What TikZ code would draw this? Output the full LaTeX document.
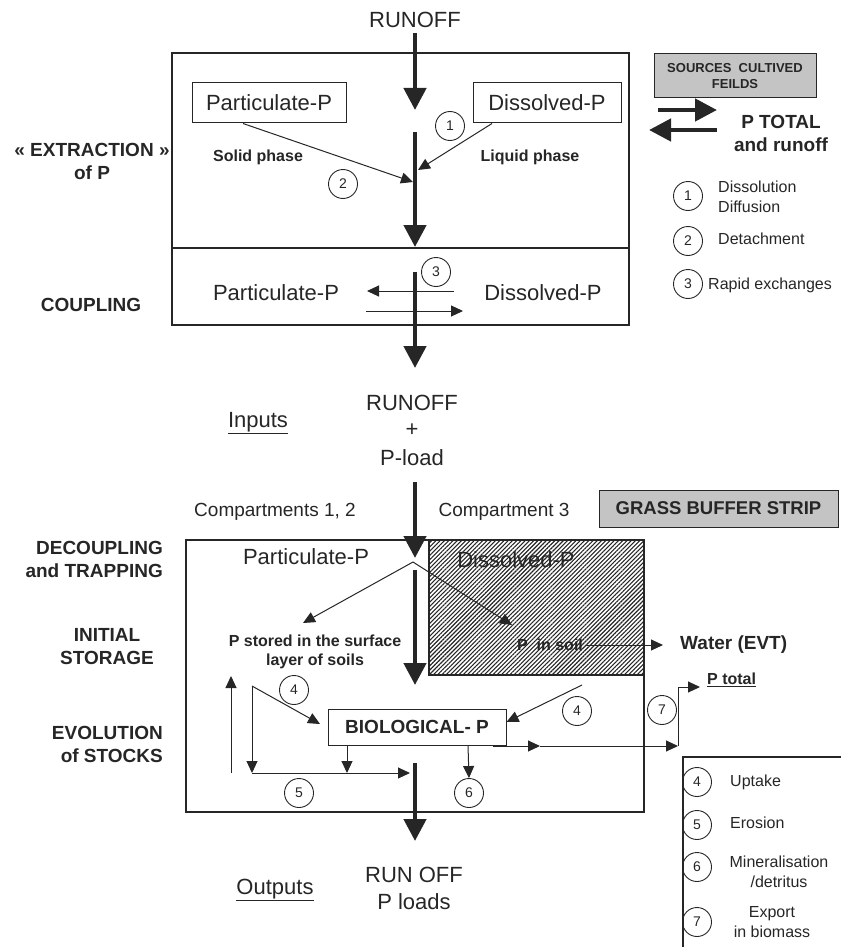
\documentclass[tikz,border=0pt]{standalone}
\usepackage{fontspec}
\setmainfont{Liberation Sans}
\usetikzlibrary{arrows.meta,patterns.meta}
\definecolor{ink}{HTML}{262626}
\definecolor{shade}{HTML}{C4C4C4}

\begin{document}
\begin{tikzpicture}[x=1pt,y=-1pt,>={Triangle[length=12pt,width=11pt]},
  every node/.style={inner sep=0pt,text=ink},
  big/.style={font=\fontsize{22}{27}\selectfont},
  lab/.style={font=\fontsize{19}{23}\selectfont\bfseries,align=center},
  smallbf/.style={font=\fontsize{16}{19}\selectfont\bfseries},
  leg/.style={font=\fontsize{16}{20}\selectfont},
  num/.style={circle,draw=ink,line width=.9pt,minimum size=29pt,font=\fontsize{14}{14}\selectfont},
  pbox/.style={draw=ink,line width=1pt,big,minimum height=40pt},
  flow/.style={draw=ink,line width=1pt,->},
  fat/.style={draw=ink,line width=4.5pt,-{Triangle[length=22pt,width=22pt]}},
  boxline/.style={draw=ink,line width=1.2pt}]
 \useasboundingbox (0,0) rectangle (841,947);

 % upper part: extraction and coupling
 \draw[boxline] (172,53) rectangle (629,325);
 \draw[boxline] (172,248) -- (629,248);
 \node[big] (runoffIn) at (415,20) {RUNOFF};
 \node[pbox,minimum width=154pt] (partTop) at (269,103) {Particulate-P};
 \node[pbox,minimum width=148pt] (dissTop) at (547,103) {Dissolved-P};
 \node[smallbf] (solid) at (258,157) {Solid phase};
 \node[smallbf] (liquid) at (530,157) {Liquid phase};
 \node[num] (n1) at (450,126) {1};
 \node[num] (n2) at (343,184) {2};
 \coordinate (runEnd) at (415,110);
 \coordinate (runA) at (415,132);
 \coordinate (mixA) at (413,182);
 \coordinate (mixB) at (418,170);
 \coordinate (cplTop) at (415,247);
 \draw[flow] ([xshift=-26pt]partTop.south) -- (mixA);
 \draw[flow] ([xshift=-55pt]dissTop.south) -- (mixB);
 \draw[fat] ([yshift=-5pt]runoffIn.south) -- (runEnd);
 \draw[fat] (runA) -- (cplTop);

 \node[big] (partCpl) at (276,293) {Particulate-P};
 \node[big] (dissCpl) at (543,293) {Dissolved-P};
 \node[num] (n3) at (436,272) {3};
 \coordinate (exA) at (454,291);
 \coordinate (exB) at (367,291);
 \coordinate (exC) at (366,311);
 \coordinate (exD) at (463,311);
 \coordinate (cplIn) at (415,272);
 \coordinate (cplOut) at (415,368);
 \draw[flow] (exA) -- (exB);
 \draw[flow] (exC) -- (exD);
 \draw[fat] (cplIn) -- (cplOut);

 \node[lab] (extr) at (92,161) {« EXTRACTION »\\of P};
 \node[lab] (coupl) at (91,305) {COUPLING};

 % sources and legend 1-3
 \node[draw=ink,fill=shade,line width=1pt,minimum width=162pt,minimum height=44pt,
   font=\fontsize{13}{16}\selectfont\bfseries,align=center] (fields) at (735,76) {SOURCES\ \ CULTIVED\\FEILDS};
 \node[lab] (ptot) at (781,133) {P TOTAL\\and runoff};
 \coordinate (srcA) at (658,110);
 \coordinate (srcB) at (717,110);
 \coordinate (srcC) at (717,130);
 \coordinate (srcD) at (649,130);
 \draw[fat] (srcA) -- (srcB);
 \draw[fat] (srcC) -- (srcD);
 \node[num] (l1) at (688,196) {1};
 \node[leg,anchor=west,align=left] (t1) at (718,197) {Dissolution\\Diffusion};
 \node[num] (l2) at (688,241) {2};
 \node[leg,anchor=west] (t2) at (718,239) {Detachment};
 \node[num] (l3) at (688,284) {3};
 \node[leg,anchor=west] (t3) at (708,285) {Rapid exchanges};

 % inputs
 \node[big] (runMid) at (412,403) {RUNOFF};
 \node[big] (plus) at (412,430) {+};
 \node[big] (pload) at (412,458) {P-load};
 \node[big] (inputs) at (258,423) {\underline{Inputs}};
 \node[font=\fontsize{19}{23}\selectfont] (comp12) at (275,512) {Compartments 1, 2};
 \node[font=\fontsize{19}{23}\selectfont] (comp3) at (504,512) {Compartment 3};
 \node[draw=ink,fill=shade,line width=1pt,minimum width=239pt,minimum height=37pt,
   font=\fontsize{18.5}{22}\selectfont\bfseries] (grass) at (718.5,508.5) {GRASS BUFFER STRIP};
 \coordinate (gsIn) at (415,482);
 \coordinate (apex) at (415,558);
 \draw[fat] (gsIn) -- (apex);

 % grass buffer strip
 \fill[pattern={Lines[angle=45,distance=3pt,line width=1.1pt]},pattern color=ink] (429,540) rectangle (644,675);
 \draw[boxline] (429,540) -- (429,675) -- (644,675);
 \draw[boxline] (186,540) rectangle (644,812);
 \node[big] (partLow) at (306,557) {Particulate-P};
 \node[big] (dissLow) at (516,560) {Dissolved-P};
 \node[smallbf,align=center] (store) at (315,652) {P stored in the surface\\layer of soils};
 \node[smallbf] (soil) at (550,645) {P\ \ in soil};
 \node[lab,anchor=west] (water) at (680,645) {Water (EVT)};
 \node[smallbf,anchor=west] (ptotal) at (707,680) {\underline{P total}};
 \coordinate (vTip) at (413,562);
 \coordinate (storeTip) at (303,623);
 \coordinate (soilTip) at (512,625);
 \coordinate (stemIn) at (415,570);
 \coordinate (stemOut) at (415,685);
 \draw[flow] (vTip) -- (storeTip);
 \draw[flow] (vTip) -- (soilTip);
 \draw[flow] ([xshift=3pt]soil.east) -- ([xshift=-17pt]water.west);
 \draw[fat] (stemIn) -- (stemOut);

 \node[lab,align=right,anchor=east] (decoup) at (163,559) {DECOUPLING\\and TRAPPING};
 \node[lab] (init) at (107,647) {INITIAL\\STORAGE};
 \node[lab,align=right,anchor=east] (evol) at (163,744) {EVOLUTION\\of STOCKS};

 % stocks
 \node[draw=ink,line width=1pt,minimum width=178pt,minimum height=36pt,
   font=\fontsize{19}{23}\selectfont\bfseries] (bio) at (417,727) {BIOLOGICAL- P};
 \node[num] (n4a) at (294,690) {4};
 \node[num] (n4b) at (577,711) {4};
 \node[num] (n5) at (299,793) {5};
 \node[num] (n6) at (469,793) {6};
 \node[num] (n7) at (662,710) {7};
 \coordinate (loopTop) at (252,686);
 \coordinate (bioIn) at (320,724);
 \coordinate (loopBot) at (252,773);
 \coordinate (erosEnd) at (410,773);
 \coordinate (bioDrop) at (347,773);
 \coordinate (upBot) at (231,773);
 \coordinate (upTop) at (231,676);
 \coordinate (uptR) at (582,685);
 \coordinate (expStart) at (493,746);
 \coordinate (expMid) at (540,746);
 \coordinate (expCorner) at (678,746);
 \coordinate (expTop) at (678,687);
 \coordinate (expTip) at (700,687);
 \draw[flow] (loopTop) -- (bioIn);
 \draw[flow] (loopTop) -- (loopBot);
 \draw[flow] (loopBot) -- (erosEnd);
 \draw[flow] ([xshift=-70pt]bio.south) -- (bioDrop);
 \draw[flow] ([xshift=51pt]bio.south) -- (n6.north);
 \draw[flow] (upBot) -- (upTop);
 \draw[flow] (uptR) -- ([yshift=5pt]bio.east);
 \draw[flow] (expStart) -- (expMid);
 \draw[flow] (expMid) -- (expCorner);
 \draw[flow] (expCorner) -- (expTop) -- (expTip);
 \coordinate (outIn) at (415,763);
 \coordinate (outTip) at (415,841);
 \draw[fat] (outIn) -- (outTip);

 % outputs
 \node[big,align=center] (runOut) at (414,888) {RUN OFF\\P loads};
 \node[big] (outputs) at (275,890) {\underline{Outputs}};

 % legend 4-7
 \draw[boxline] (683,947) -- (683,757) -- (841,757);
 \node[num] (l4) at (697,782) {4};
 \node[leg,anchor=west] (t4) at (730,782) {Uptake};
 \node[num] (l5) at (697,825) {5};
 \node[leg,anchor=west] (t5) at (730,823) {Erosion};
 \node[num] (l6) at (697,867) {6};
 \node[leg,align=center] (t6) at (779,872) {Mineralisation\\/detritus};
 \node[num] (l7) at (697,922) {7};
 \node[leg,align=center] (t7) at (772,922) {Export\\in biomass};
\end{tikzpicture}
\end{document}
